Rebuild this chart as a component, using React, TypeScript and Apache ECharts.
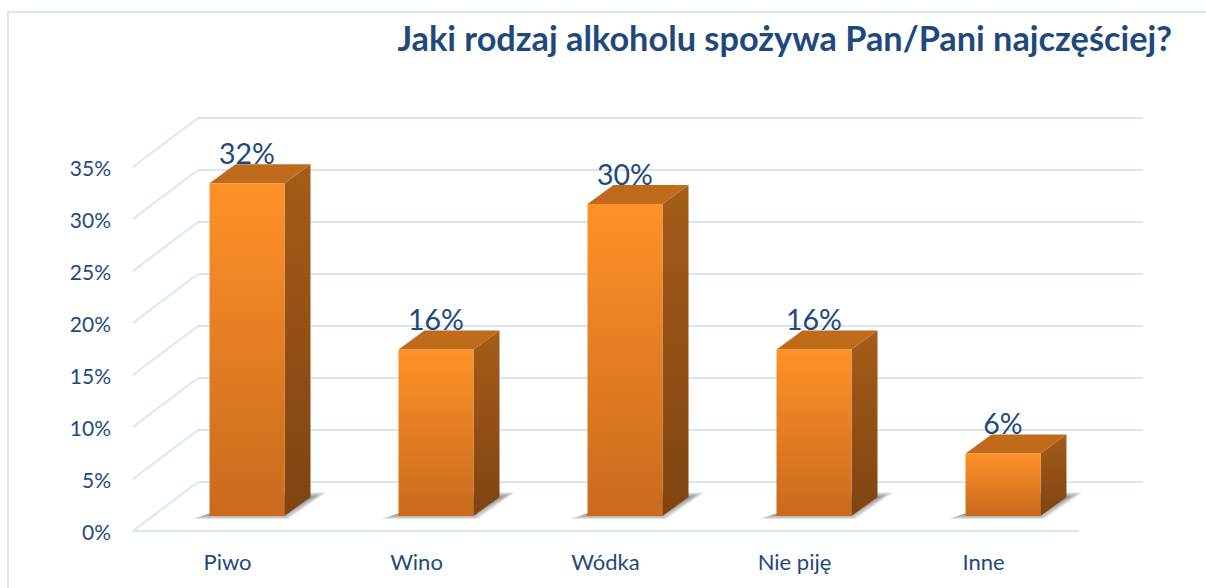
import React, { useEffect, useRef } from "react";
import * as echarts from "echarts";

const title = "Jaki rodzaj alkoholu spożywa Pan/Pani najczęściej?";
const categories = ["Piwo", "Wino", "Wódka", "Nie piję", "Inne"];
const values = [32, 16, 30, 16, 6];
const yTicks = [0, 5, 10, 15, 20, 25, 30, 35];

const NAVY = "#1F497D";
const GRID = "#DBE6F4";
const FONT = "Lato, 'Noto Sans', sans-serif";

const BAR_W = 75;
const DX = 26;
const DY = 19;
const BAR_SHIFT_X = 19.5;
const BAR_SHIFT_Y = -15;
const WALL_DX = 65;
const WALL_DY = -49;
const SHADOW_STEPS = [8, 6, 4, 2, 0, -2, -4, -6, -8];

const vGrad = (a: string, b: string) =>
  new echarts.graphic.LinearGradient(0, 0, 0, 1, [
    { offset: 0, color: a },
    { offset: 1, color: b },
  ]);

export default function App() {
  const ref = useRef<HTMLDivElement>(null);
  useEffect(() => {
    document.body.style.margin = "0";
    document.body.style.background = "#fff";
    const chart = echarts.init(ref.current!, undefined, { renderer: "svg" });
    chart.setOption({
      animation: false,
      backgroundColor: "#FFFFFF",
      title: {
        text: title,
        right: 29,
        top: 15,
        textStyle: { color: NAVY, fontFamily: FONT, fontWeight: "bold", fontSize: 34.3 },
      },
      graphic: [
        {
          type: "polyline",
          silent: true,
          shape: { points: [[8, 588], [8, 12], [1206, 12]] },
          style: { stroke: GRID, lineWidth: 2, fill: "none" },
        },
      ],
      grid: [
        { left: 133, top: 167, width: 945, height: 364 },
        { left: 198, top: 118, width: 944, height: 364 },
      ],
      xAxis: [
        {
          type: "category",
          gridIndex: 0,
          data: categories,
          axisTick: { show: false },
          axisLine: { show: true, lineStyle: { color: GRID, width: 2 } },
          axisLabel: { color: NAVY, fontFamily: FONT, fontSize: 22, margin: 19 },
        },
        { type: "category", gridIndex: 1, data: categories, show: false },
      ],
      yAxis: [
        {
          type: "value",
          gridIndex: 0,
          min: 0,
          max: 35,
          interval: 5,
          axisLine: { show: false },
          axisTick: { show: false },
          splitLine: { show: false },
          axisLabel: {
            color: NAVY,
            fontFamily: FONT,
            fontSize: 21,
            margin: 22,
            formatter: "{value}%",
          },
        },
        {
          type: "value",
          gridIndex: 1,
          min: 0,
          max: 35,
          interval: 5,
          axisLine: { show: false },
          axisTick: { show: false },
          axisLabel: { show: false },
          splitLine: { show: true, lineStyle: { color: GRID, width: 2 } },
        },
      ],
      series: [
        {
          type: "custom",
          name: "Siatka",
          xAxisIndex: 0,
          yAxisIndex: 0,
          silent: true,
          z: 1,
          data: yTicks.map((t) => [0, t]),
          renderItem: (params: any, api: any) => {
            const y = api.coord([0, api.value(1)])[1];
            const x = params.coordSys.x;
            return {
              type: "line",
              shape: { x1: x, y1: y, x2: x + WALL_DX, y2: y + WALL_DY },
              style: { stroke: GRID, lineWidth: 2 },
            };
          },
        },
        {
          type: "custom",
          name: "Udział",
          xAxisIndex: 0,
          yAxisIndex: 0,
          silent: true,
          z: 3,
          data: values.map((v, i) => [i, v]),
          renderItem: (_params: any, api: any) => {
            const c = api.coord([api.value(0), api.value(1)]);
            const b = api.coord([api.value(0), 0]);
            const l = c[0] + BAR_SHIFT_X - BAR_W / 2;
            const r = l + BAR_W;
            const t = c[1] + BAR_SHIFT_Y;
            const bot = b[1] + BAR_SHIFT_Y;
            const shadows = SHADOW_STEPS.map((s) => ({
              type: "polygon",
              shape: {
                points: [
                  [l - 10 - s, bot + 0.5 + s * 0.35],
                  [r + s * 0.5, bot + 0.5 + s * 0.35],
                  [r + 34 + s, bot - 21 - s * 0.35],
                  [r - 10, bot - 21 - s * 0.35],
                ],
              },
              style: { fill: "rgba(60,60,60,0.09)" },
            }));
            return {
              type: "group",
              children: [
                ...shadows,
                {
                  type: "polygon",
                  shape: { points: [[r, t], [r + DX, t - DY], [r + DX, bot - DY], [r, bot]] },
                  style: { fill: vGrad("#A55C18", "#7F4412") },
                },
                {
                  type: "polygon",
                  shape: { points: [[l, t], [l + DX, t - DY], [r + DX, t - DY], [r, t]] },
                  style: { fill: "#C06A1B" },
                },
                {
                  type: "rect",
                  shape: { x: l, y: t, width: BAR_W, height: bot - t },
                  style: { fill: vGrad("#FF9128", "#C96A1D") },
                },
                {
                  type: "text",
                  style: {
                    x: (l + r) / 2,
                    y: t - 16,
                    text: api.value(1) + "%",
                    fill: NAVY,
                    font: "28.5px " + FONT,
                    align: "center",
                    verticalAlign: "bottom",
                  },
                },
              ],
            };
          },
        },
      ],
    });
    return () => chart.dispose();
  }, []);
  return <div ref={ref} style={{ width: 1206, height: 588 }} />;
}
